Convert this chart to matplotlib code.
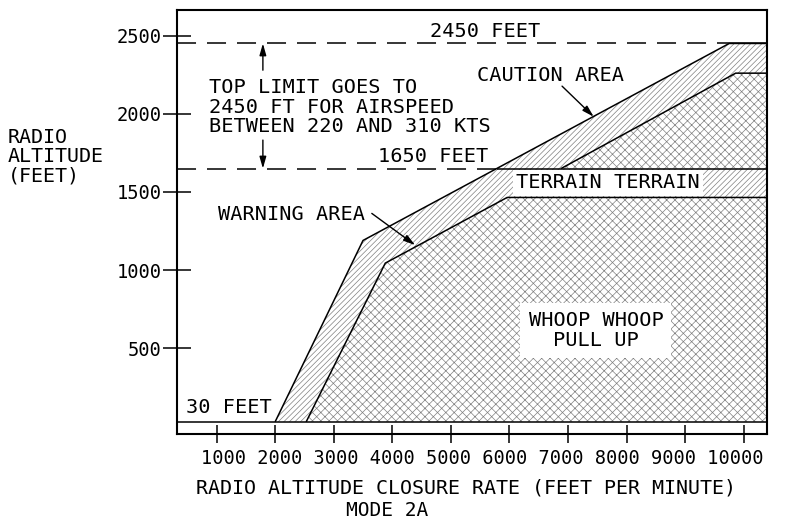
import matplotlib
matplotlib.use('Agg')
import matplotlib.pyplot as plt
import numpy as np

# GPWS mode 2A envelope: closure rate (ft/min) vs radio altitude (ft)
caution_rate = [2000, 3500, 9750]
caution_alt = [30, 1190, 2450]

warning_rate = [2530, 3880, 5960]
warning_alt = [30, 1045, 1465]

warning_upper_rate = [6880, 9860]
warning_upper_alt = [1650, 2260]

floor_alt = 30
mid_limit = 1650
top_limit = 2450

x_ticks = [1000, 2000, 3000, 4000, 5000, 6000, 7000, 8000, 9000, 10000]
x_tick_labels = ['1000', '2000', '3000', '4000', '5000', '6000', '7000', '8000', '9000', '10000']
y_ticks = [500, 1000, 1500, 2000, 2500]
y_tick_labels = ['500', '1000', '1500', '2000', '2500']

x_min, x_max = 320, 10400
y_min, y_max = -48, 2664

mono = 'DejaVu Sans Mono'
plt.rcParams['font.family'] = mono
plt.rcParams['hatch.linewidth'] = 0.5
plt.rcParams['lines.scale_dashes'] = False

W, H = 787, 521
fig = plt.figure(figsize=(W / 100, H / 100), dpi=100)
ax = fig.add_axes([176.7 / W, 1 - 434 / H, (767.3 - 176.7) / W, (434 - 10) / H])
ax.set_xlim(x_min, x_max)
ax.set_ylim(y_min, y_max)

hatch_col = '#808080'
line_kw = dict(color='black', lw=1.1, solid_capstyle='butt')
dash_kw = dict(color='black', lw=1.1, dashes=(13.7, 7.9))

# caution band (single hatch), then warning area (cross hatch) on top
ax.fill(caution_rate + [x_max, x_max], caution_alt + [top_limit, floor_alt],
        facecolor='white', edgecolor=hatch_col, hatch='//////', lw=0)
ax.fill(warning_rate + [x_max, x_max], warning_alt + [warning_alt[-1], floor_alt],
        facecolor='white', edgecolor=hatch_col, hatch='xxxx', lw=0)
ax.fill(warning_upper_rate + [x_max, x_max],
        warning_upper_alt + [warning_upper_alt[-1], mid_limit],
        facecolor='white', edgecolor=hatch_col, hatch='xxxx', lw=0)

# boundaries
ax.plot(caution_rate + [x_max], caution_alt + [top_limit], **line_kw)
ax.plot(warning_rate + [x_max], warning_alt + [warning_alt[-1]], **line_kw)
ax.plot(warning_upper_rate + [x_max], warning_upper_alt + [warning_upper_alt[-1]], **line_kw)
ax.plot([x_min, x_max], [floor_alt, floor_alt], **line_kw)

x_mid = np.interp(mid_limit, caution_alt, caution_rate)
ax.plot([x_min, x_mid], [mid_limit, mid_limit], **dash_kw)
ax.plot([x_mid, x_max], [mid_limit, mid_limit], **line_kw)
x_top = np.interp(top_limit, caution_alt, caution_rate)
ax.plot([x_min, x_top], [top_limit, top_limit], **dash_kw)
ax.plot([x_top, x_max], [top_limit, top_limit], **line_kw)

for s in ax.spines.values():
    s.set_linewidth(1.5)

ax.set_xticks(x_ticks)
ax.set_xticklabels([])
ax.set_yticks(y_ticks)
ax.set_yticklabels(y_tick_labels)
ax.tick_params(axis='x', direction='inout', length=13, width=1.1)
ax.tick_params(axis='y', direction='inout', length=20, width=1.1, labelsize=13.5, pad=1)

fs = 14.6
arrow = dict(arrowstyle='-|>,head_length=0.7,head_width=0.2', color='black', lw=1,
             shrinkA=0, shrinkB=0)

ax.text(5583, 2526, '2450 FEET', fontsize=fs, ha='center', va='center')
ax.text(873, 2043, 'TOP LIMIT GOES TO\n2450 FT FOR AIRSPEED\nBETWEEN 220 AND 310 KTS',
        fontsize=fs, ha='left', va='center', linespacing=1.05)
ax.annotate('', xy=(1791, top_limit), xytext=(1791, 2279), arrowprops=arrow)
ax.annotate('', xy=(1791, mid_limit), xytext=(1791, 1832), arrowprops=arrow)
ax.text(3757, 1730, '1650 FEET', fontsize=fs, ha='left', va='center')

ax.text(5450, 2244, 'CAUTION AREA', fontsize=fs, ha='left', va='center')
ax.annotate('', xy=(7438, 1981), xytext=(6897, 2177), arrowprops=arrow)
ax.text(1022, 1359, 'WARNING AREA', fontsize=fs, ha='left', va='center')
ax.annotate('', xy=(4390, 1160), xytext=(3650, 1363), arrowprops=arrow)

ax.text(7681, (warning_alt[-1] + mid_limit) / 2, 'TERRAIN TERRAIN', fontsize=fs,
        ha='center', va='center',
        bbox=dict(boxstyle='square,pad=0.15', facecolor='white', edgecolor='none'))
ax.text(7475, 614, 'WHOOP WHOOP\nPULL UP', fontsize=fs, ha='center', va='center',
        linespacing=1.05,
        bbox=dict(boxstyle='square,pad=0.4', facecolor='white', edgecolor='none'))
ax.text(487, 121, '30 FEET', fontsize=fs, ha='left', va='center')

fig.text(8 / W, 1 - 157 / H, 'RADIO\nALTITUDE\n(FEET)', fontsize=14.4,
         ha='left', va='center', linespacing=1.0)
fig.text(482 / W, 1 - 458 / H, ' '.join(x_tick_labels), fontsize=13.4,
         ha='center', va='center')
fig.text(466 / W, 1 - 488 / H, 'RADIO ALTITUDE CLOSURE RATE (FEET PER MINUTE)',
         fontsize=14.4, ha='center', va='center')
fig.text(387 / W, 1 - 510 / H, 'MODE 2A', fontsize=14, ha='center', va='center')

fig.savefig('out.png', dpi=100)
